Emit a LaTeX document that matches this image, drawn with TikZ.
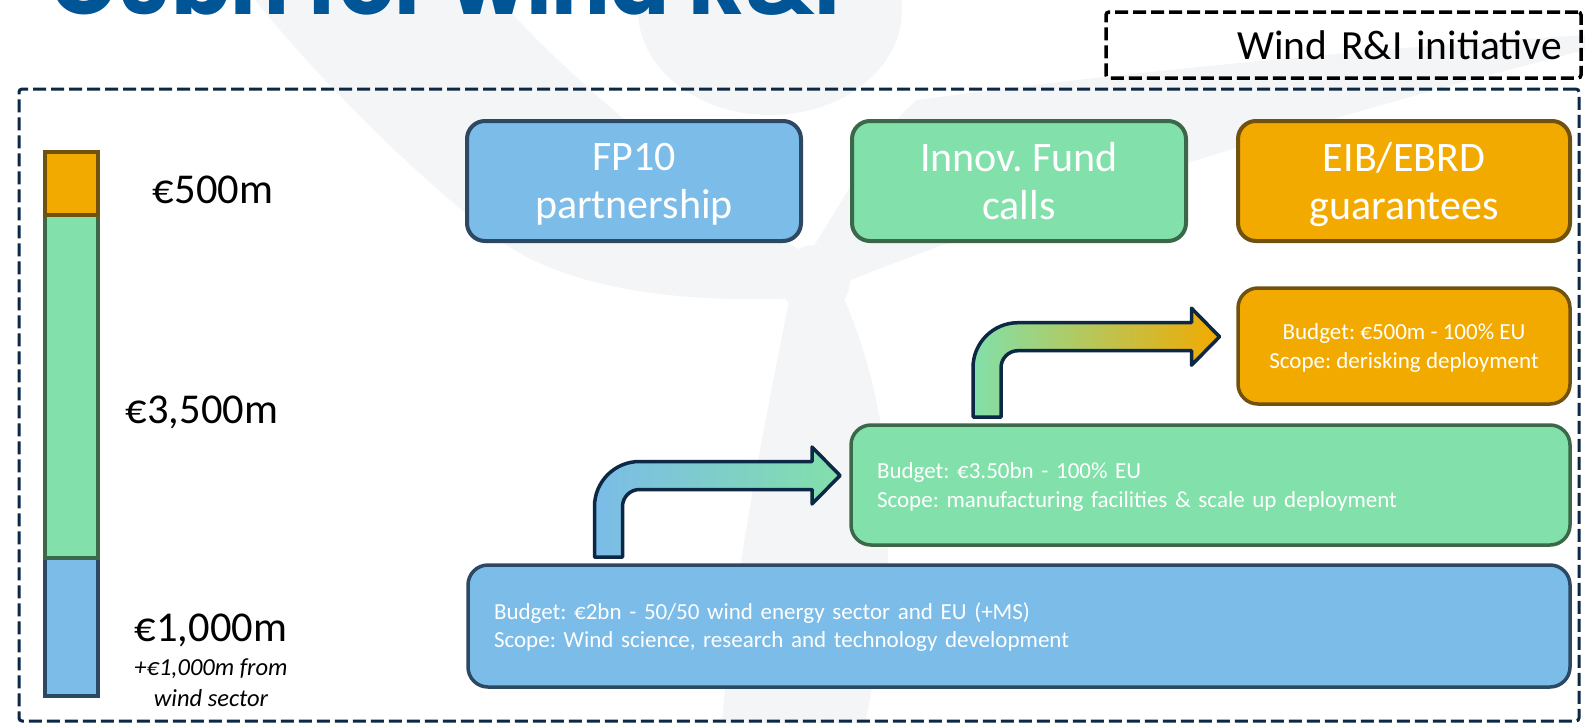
\documentclass[tikz,border=0pt]{standalone}
\usepackage{graphicx}
\usepackage{fontspec}
\setmainfont{Carlito}
\newfontfamily\titlefont{Poppins}
\usetikzlibrary{calc}
\frenchspacing
\definecolor{bluefill}{RGB}{123,188,232}
\definecolor{blueedge}{RGB}{44,72,99}
\definecolor{greenfill}{RGB}{130,224,170}
\definecolor{greenedge}{RGB}{58,104,72}
\definecolor{orangefill}{RGB}{242,170,0}
\definecolor{orangeedge}{RGB}{112,82,14}
\definecolor{navy}{RGB}{12,40,68}
\definecolor{titleblue}{RGB}{0,85,150}
\definecolor{wmgrey}{RGB}{244,245,247}
\tikzset{
  wm/.style={fill=wmgrey, draw=none},
  hdr/.style={draw, rounded corners=18pt, line width=4pt, text=white, align=center,
    minimum height=120pt, inner sep=0pt, text depth=0pt, font=\fontsize{42}{48}\selectfont},
  detail/.style={draw, rounded corners=20pt, line width=3.5pt, text=white,
    font=\fontsize{23}{28.5}\selectfont},
  barseg/.style={draw, line width=3.5pt, minimum width=53pt, inner sep=0pt},
  lbl/.style={inner sep=0pt, font=\fontsize{42.5}{50}\selectfont},
  lblit/.style={inner sep=0pt, align=center, font=\fontsize{24.5}{31}\selectfont\itshape},
  frameline/.style={draw=navy, line width=3pt, dash pattern=on 13pt off 5pt, rounded corners=3pt, inner sep=0pt},
  windbox/.style={draw=black, line width=3.5pt, dash pattern=on 13pt off 5pt, rounded corners=3pt,
    font=\fontsize{41.5}{47}\selectfont, align=right, inner ysep=0pt},
  bentarr/.style={draw=navy, line width=3.5pt, line join=round},
}
\begin{document}
\begin{tikzpicture}[x=1pt,y=-1pt]
\useasboundingbox (0,0) rectangle (1585,723);
\clip (0,0) rectangle (1585,723);
\fill[white] (0,0) rectangle (1585,723);
% faint watermark
\fill[wm] (255,0) -- (500,0) .. controls (560,70) and (700,190) .. (808,255) -- (800,298)
  .. controls (650,305) and (540,280) .. (480,225) .. controls (400,160) and (320,80) .. (255,0) -- cycle;
\fill[wm] (770,10) ellipse [x radius=132, y radius=105];
\fill[wm] (808,255) .. controls (850,190) and (880,130) .. (917,100)
  .. controls (1100,75) and (1350,50) .. (1585,35) -- (1585,50)
  .. controls (1350,110) and (1050,200) .. (838,285) -- cycle;
\fill[wm] (790,295) .. controls (770,400) and (735,560) .. (722,723) -- (865,723)
  .. controls (900,560) and (900,420) .. (838,285) -- cycle;
\fill[wm] (815,280) circle [radius=35];
% title (cut at the top)
\node[anchor=base west, inner sep=0pt, text=titleblue] (title) at (46,14)
  {\resizebox{794pt}{!}{\titlefont\bfseries €6bn for wind R\&I}};
% frames
\node[windbox, minimum width=475pt, minimum height=66pt, text width=437pt, inner xsep=19pt] (wind) at (1343.5,45) {Wind R\&I initiative};
\node[frameline, minimum width=1560pt, minimum height=632pt] (frame) at (799,405) {};
% budget bar
\node[barseg, fill=bluefill, draw=blueedge, minimum height=138pt] (bblue) at (71.5,627) {};
\node[barseg, fill=greenfill, draw=greenedge, minimum height=343pt] (bgreen) at (71.5,386.5) {};
\node[barseg, fill=orangefill, draw=orangeedge, minimum height=63pt] (borange) at (71.5,183.5) {};
\node[lbl] (l500) at (213,190) {€500m};
\node[lbl] (l3500) at (202,412) {€3,500m};
\node[lbl] (l1000) at (211,630) {€1,000m};
\node[lblit] (lws) at (211,683) {+€1,000m from\\wind sector};
% header boxes
\node[hdr, fill=bluefill, draw=blueedge, minimum width=334pt] (fp) at (634,181) {FP10\\partnership};
\node[hdr, fill=greenfill, draw=greenedge, minimum width=334pt] (inn) at (1019,181) {Innov. Fund\\calls};
\node[hdr, fill=orangefill, draw=orangeedge, minimum width=332pt] (eib) at (1404,181) {EIB/EBRD\\guarantees};
% detail boxes
\node[detail, fill=orangefill, draw=orangeedge, minimum width=332pt, minimum height=116pt, align=center, text depth=0pt] (od) at (1404,346)
  {Budget: €500m - 100\% EU\\Scope: derisking deployment};
\node[detail, fill=greenfill, draw=greenedge, minimum height=120pt, text width=667pt, inner xsep=26pt, align=left, text depth=28pt] (gd) at (1210.5,485)
  {Budget: €3.50bn - 100\% EU\\Scope: manufacturing facilities \& scale up deployment};
\node[detail, fill=bluefill, draw=blueedge, minimum height=122pt, text width=1050pt, inner xsep=26pt, align=left, text depth=30pt] (bd) at (1019,626)
  {Budget: €2bn - 50/50 wind energy sector and EU (+MS)\\Scope: Wind science, research and technology development};
% bent arrows
\coordinate (a1s) at (608.5,557);
\coordinate (a1t) at (840,475.5);
\coordinate (a2s) at (987,417);
\coordinate (a2t) at (1219.5,336.7);
\draw[bentarr, left color=bluefill, right color=greenfill]
  let \p1=(a1s), \p2=(a1t) in
  (\x1-14pt,\y1) [rounded corners=45pt] -- (\x1-14pt,\y2+14pt) [sharp corners]
  -- (\x2-28pt,\y2+14pt) -- (\x2-28pt,\y2+28.5pt) -- (\x2,\y2) -- (\x2-28pt,\y2-28.5pt)
  -- (\x2-28pt,\y2-14pt) [rounded corners=17pt] -- (\x1+14pt,\y2-14pt) [sharp corners]
  -- (\x1+14pt,\y1) -- cycle;
\draw[bentarr, left color=greenfill, right color=orangefill]
  let \p1=(a2s), \p2=(a2t) in
  (\x1-14pt,\y1) [rounded corners=45pt] -- (\x1-14pt,\y2+14pt) [sharp corners]
  -- (\x2-28pt,\y2+14pt) -- (\x2-28pt,\y2+28.5pt) -- (\x2,\y2) -- (\x2-28pt,\y2-28.5pt)
  -- (\x2-28pt,\y2-14pt) [rounded corners=17pt] -- (\x1+14pt,\y2-14pt) [sharp corners]
  -- (\x1+14pt,\y1) -- cycle;
\end{tikzpicture}
\end{document}
